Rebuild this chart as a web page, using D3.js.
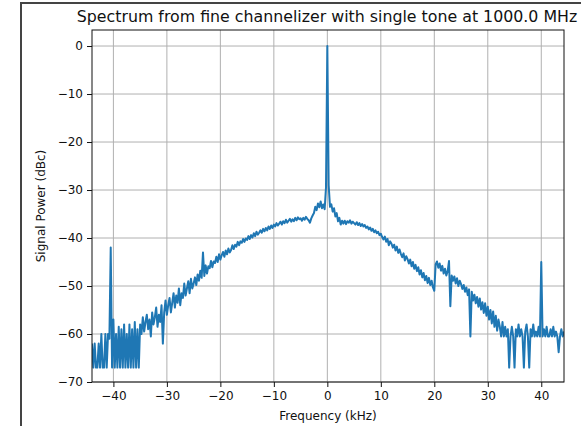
<!DOCTYPE html>
<html>
<head>
<meta charset="utf-8">
<script src="https://cdn.jsdelivr.net/npm/d3@7"></script>
<style>
  body { margin: 0; background: #fff; }
  svg { display: block; font-family: "DejaVu Sans", sans-serif; }
</style>
</head>
<body>
<div id="chart"></div>
<script>
// frequency grid (kHz), one bin every 0.25 kHz from -44 to 44.25
const freqStart = -44;
const freqStep = 0.25;

// signal power (dBc) per bin
const power = [
  // -44 .. -35
  -62, -67, -62, -67, -67, -62, -67, -60, -67, -67, -60, -67, -60, -61, -42, -67,
  -57, -67, -60, -67, -58.5, -67, -59, -67, -58, -67, -60, -67, -58, -67, -59, -67,
  -57.5, -67, -59, -67, -58,
  // -34.75 .. -25
  -60, -56.5, -59.5, -57.5, -56, -59, -57, -60.5, -55.5, -58, -56.5, -54.5, -58.5, -56, -57.5, -54,
  -62, -55.5, -53, -56, -54, -52.5, -55.5, -53.5, -51.5, -54.5, -52, -53.5, -50.5, -54, -51.5, -52.5,
  -49.5, -52, -50.5, -49, -51.5, -48.5, -50.5, -49.5,
  // -24.75 .. -15
  -48.2, -49.8, -47.6, -48.9, -46.8, -48.3, -43, -47.9, -45.7, -47.4, -45.9, -46.3, -44.8, -46.1, -44.9, -45.2,
  -43.9, -45.0, -43.4, -44.5, -43.6, -42.9, -43.9, -42.6, -43.4, -42.2, -43.0, -42.5, -41.5, -42.3, -41.4, -41.8,
  -40.8, -41.5, -40.7, -41.0, -40.2, -40.8, -40.1, -40.4,
  // -14.75 .. -2.5
  -39.6, -40.2, -39.4, -39.9, -39.0, -39.6, -38.7, -39.3, -38.9, -38.4, -38.9, -38.1, -38.6, -37.9, -38.4, -37.6,
  -38.1, -37.4, -37.9, -37.2, -37.6, -36.9, -37.4, -37.0, -36.6, -37.2, -36.5, -36.9, -36.2, -36.8, -36.4, -36.0,
  -36.6, -36.1, -36.5, -35.8, -36.3, -35.7, -36.1, -35.9, -36.4, -35.8, -36.2, -35.6, -36.0, -36.3, -36.8, -35.9,
  -35.3, -34.8,
  // -2.25 .. 3
  -33.5, -34.2, -32.8, -33.6, -32.4, -33.8, -33.0, -34.0, -29.5, 0, -29.0, -33.5, -33.0, -34.5, -33.8, -35.5,
  -34.8, -36.5, -35.8, -37.2, -36.4, -37.0,
  // 3.25 .. 10
  -36.4, -37.1, -36.5, -36.8, -36.3, -37.0, -36.6, -36.9, -37.2, -36.7, -37.3, -36.9, -37.5, -37.1, -37.6, -37.3,
  -37.9, -37.6, -38.2, -37.8, -38.5, -38.1, -38.8, -38.4, -39.0, -38.7, -39.4, -39.1,
  // 10.25 .. 20
  -39.8, -40.3, -39.7, -40.8, -40.2, -41.5, -40.7, -41.2, -42.0, -41.4, -42.6, -41.8, -43.1, -42.4, -43.3, -44.0,
  -43.2, -44.7, -43.8, -44.4, -45.3, -44.5, -45.9, -45.0, -46.4, -45.6, -46.9, -46.1, -47.6, -46.7, -48.2, -47.3,
  -48.8, -47.9, -49.4, -48.3, -49.8, -48.9, -50.3, -51.0,
  // 20.25 .. 32
  -45.5, -44.9, -46.2, -45.3, -46.8, -45.8, -47.4, -46.4, -47.8, -46.9, -44.8, -54.2, -47.8, -48.9, -48.0, -49.5,
  -48.4, -50.0, -48.9, -49.6, -50.6, -49.8, -51.2, -50.3, -51.9, -50.7, -60.5, -51.2, -53.0, -51.8, -53.6, -52.3,
  -54.3, -52.6, -54.9, -53.4, -55.6, -53.6, -56.2, -54.3, -57.0, -55.0, -57.8, -55.3, -58.5, -56.2, -59.3, -57.0,
  // 32.25 .. 44.25
  -58.5, -60.5, -57.5, -60.5, -58.5, -60.5, -59.0, -67, -60.5, -58.5, -60.5, -67, -59.0, -60.5, -58.0, -60.5,
  -59.0, -60.5, -67, -59.5, -58.0, -60.5, -67, -59.0, -60.5, -58.0, -60.5, -59.5, -60.5, -58.5, -60.5, -45,
  -60.5, -59.0, -60.5, -58.5, -60.5, -60.5, -59.0, -60.5, -58.5, -60.5, -59.5, -60.5, -63.8, -60.5, -59.0, -60.5,
  -59.5
];

const xTicks = [-40, -30, -20, -10, 0, 10, 20, 30, 40];
const yTicks = [-70, -60, -50, -40, -30, -20, -10, 0];

const title = "Spectrum from fine channelizer with single tone at 1000.0 MHz";
const xLabel = "Frequency (kHz)";
const yLabel = "Signal Power (dBc)";

const width = 581, height = 426;
const plot = { left: 92, right: 564, top: 30, bottom: 382 };

const svg = d3.select("#chart").append("svg")
  .attr("width", width)
  .attr("height", height);

// window frame of the screenshot
svg.append("path")
  .attr("d", `M21,${height} V3 H${width}`)
  .attr("fill", "none")
  .attr("stroke", "#444")
  .attr("stroke-width", 2);

const points = power.map((p, i) => ({ f: freqStart + i * freqStep, p }));

const x = d3.scaleLinear().domain([-44, 44.25]).range([plot.left, plot.right]);
const y = d3.scaleLinear().domain([-70, 3.34]).range([plot.bottom, plot.top]);

const fmt = d => d < 0 ? "\u2212" + Math.abs(d) : String(d);

// grid
svg.append("g").selectAll("line").data(xTicks).join("line")
  .attr("x1", d => x(d)).attr("x2", d => x(d))
  .attr("y1", plot.top).attr("y2", plot.bottom)
  .attr("stroke", "#b0b0b0").attr("stroke-width", 1);
svg.append("g").selectAll("line").data(yTicks).join("line")
  .attr("x1", plot.left).attr("x2", plot.right)
  .attr("y1", d => y(d)).attr("y2", d => y(d))
  .attr("stroke", "#b0b0b0").attr("stroke-width", 1);

svg.append("clipPath").attr("id", "clip")
  .append("rect")
  .attr("x", plot.left).attr("y", plot.top)
  .attr("width", plot.right - plot.left).attr("height", plot.bottom - plot.top);

const line = d3.line().x(d => x(d.f)).y(d => y(d.p));

svg.append("path")
  .datum(points)
  .attr("clip-path", "url(#clip)")
  .attr("d", line)
  .attr("fill", "none")
  .attr("stroke", "#1f77b4")
  .attr("stroke-width", 2)
  .attr("stroke-linejoin", "round");

// axes
const xAxis = svg.append("g")
  .attr("transform", `translate(0,${plot.bottom})`)
  .call(d3.axisBottom(x).tickValues(xTicks).tickFormat(fmt).tickSize(5).tickPadding(4));
const yAxis = svg.append("g")
  .attr("transform", `translate(${plot.left},0)`)
  .call(d3.axisLeft(y).tickValues(yTicks).tickFormat(fmt).tickSize(5).tickPadding(4));

[xAxis, yAxis].forEach(g => {
  g.select(".domain").remove();
  g.selectAll("text").attr("font-size", 12).attr("fill", "#111")
    .attr("font-family", "DejaVu Sans, sans-serif");
  g.selectAll("line").attr("stroke", "#111");
});

// spines
svg.append("rect")
  .attr("x", plot.left).attr("y", plot.top)
  .attr("width", plot.right - plot.left).attr("height", plot.bottom - plot.top)
  .attr("fill", "none").attr("stroke", "#111").attr("stroke-width", 1);

svg.append("text")
  .attr("x", 327)
  .attr("y", 22)
  .attr("text-anchor", "middle")
  .attr("font-size", 15.8)
  .attr("fill", "#111")
  .text(title);

svg.append("text")
  .attr("x", (plot.left + plot.right) / 2)
  .attr("y", 420)
  .attr("text-anchor", "middle")
  .attr("font-size", 12)
  .attr("fill", "#111")
  .text(xLabel);

svg.append("text")
  .attr("transform", `translate(45,${(plot.top + plot.bottom) / 2}) rotate(-90)`)
  .attr("text-anchor", "middle")
  .attr("font-size", 12)
  .attr("fill", "#111")
  .text(yLabel);
</script>
</body>
</html>
